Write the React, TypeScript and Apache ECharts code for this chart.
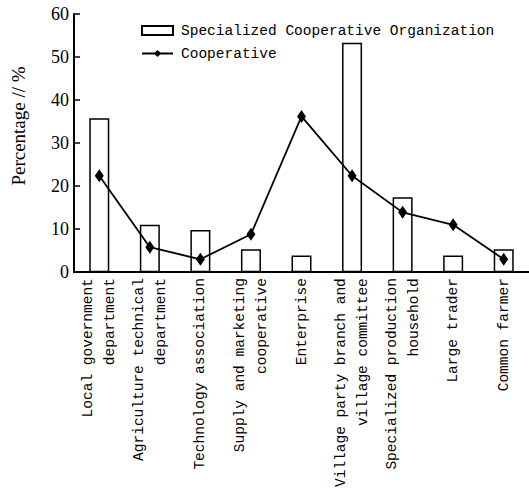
import React, { useEffect, useRef } from "react";
import * as echarts from "echarts";

const categories = [
  "Local government\ndepartment",
  "Agriculture technical\ndepartment",
  "Technology association",
  "Supply and marketing\ncooperative",
  "Enterprise",
  "Village party branch and\nvillage committee",
  "Specialized production\nhousehold",
  "Large trader",
  "Common farmer",
];
const specializedOrg = [35.8, 11, 9.8, 5.3, 3.9, 53.3, 17.4, 3.9, 5.3];
const cooperative = [22.4, 5.8, 3, 8.8, 36.2, 22.4, 13.9, 11, 3];
const yTicks = { min: 0, max: 60, interval: 10 };

export default function App() {
  const ref = useRef<HTMLDivElement>(null);
  useEffect(() => {
    if (!ref.current) return;
    const chart = echarts.init(ref.current, undefined, { renderer: "svg" });
    chart.setOption({
      animation: false,
      backgroundColor: "#fff",
      grid: { left: 74, right: 0, top: 14, bottom: 213, containLabel: false },
      legend: {
        orient: "vertical",
        left: 141,
        top: 22,
        padding: 0,
        itemWidth: 31,
        itemHeight: 9,
        itemGap: 6,
        textStyle: {
          fontFamily: "Liberation Mono",
          fontSize: 14.5,
          color: "#000",
          lineHeight: 17,
          padding: [0, 0, 0, 3],
        },
        data: [
          { name: "Specialized Cooperative Organization", icon: "rect" },
          { name: "Cooperative" },
        ],
      },
      graphic: [
        {
          type: "text",
          x: 18,
          y: 126,
          rotation: Math.PI / 2,
          style: {
            text: "Percentage // %",
            fontFamily: "Liberation Serif",
            fontSize: 19,
            fill: "#000",
            align: "center",
            verticalAlign: "middle",
          },
        },
      ],
      xAxis: {
        type: "category",
        data: categories,
        boundaryGap: true,
        axisLine: { lineStyle: { color: "#000", width: 2 } },
        axisTick: { inside: true, length: 4, lineStyle: { color: "#000", width: 1.5 } },
        axisLabel: {
          rotate: 90,
          interval: 0,
          margin: 6,
          fontFamily: "Liberation Mono",
          fontSize: 14.5,
          lineHeight: 22,
          color: "#000",
        },
      },
      yAxis: {
        type: "value",
        min: yTicks.min,
        max: yTicks.max,
        interval: yTicks.interval,
        axisLine: { show: true, lineStyle: { color: "#000", width: 2 } },
        axisTick: { show: true, inside: true, length: 6, lineStyle: { color: "#000", width: 1.5 } },
        splitLine: { show: false },
        axisLabel: {
          fontFamily: "Liberation Serif",
          fontSize: 18,
          color: "#000",
          margin: 5,
        },
      },
      series: [
        {
          name: "Specialized Cooperative Organization",
          type: "bar",
          data: specializedOrg,
          barWidth: 20,
          itemStyle: { color: "#fff", borderColor: "#000", borderWidth: 1.5 },
          z: 2,
        },
        {
          name: "Cooperative",
          type: "line",
          data: cooperative,
          symbol: "diamond",
          symbolSize: [9, 13],
          lineStyle: { color: "#000", width: 1.8 },
          itemStyle: { color: "#000" },
          z: 3,
        },
      ],
    });
    return () => chart.dispose();
  }, []);
  return <div ref={ref} style={{ width: 529, height: 490, position: "absolute", left: 0, top: 0 }} />;
}
